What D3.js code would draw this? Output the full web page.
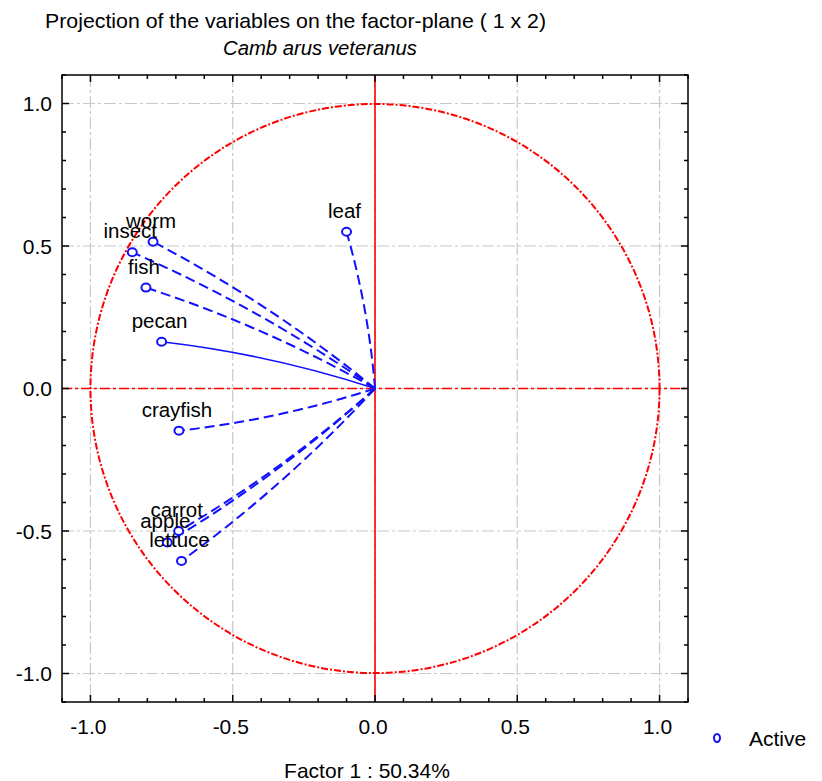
<!DOCTYPE html>
<html>
<head>
<meta charset="utf-8">
<script src="https://cdn.jsdelivr.net/npm/d3@7"></script>
<style>
  html, body { margin: 0; padding: 0; background: #fff; }
  svg text { font-family: "Liberation Sans", Arial, sans-serif; fill: #000; }
</style>
</head>
<body>
<svg id="chart" width="822" height="781"></svg>
<script>
// Variable loadings on factor 1 (x) and factor 2 (y)
const variables = ["leaf", "worm", "insect", "fish", "pecan", "crayfish", "carrot", "apple", "lettuce"];
const factor1 = [-0.10, -0.78, -0.853, -0.805, -0.75, -0.689, -0.69, -0.73, -0.68];
const factor2 = [0.55, 0.515, 0.478, 0.354, 0.164, -0.148, -0.50, -0.54, -0.605];
const solidLine = ["pecan"];

const majorTicks = [-1.0, -0.5, 0.0, 0.5, 1.0];
const tickLabels = ["-1.0", "-0.5", "0.0", "0.5", "1.0"];
const axisDomain = [-1.1, 1.1];

const titleText = "Projection of the variables on the factor-plane (  1 x    2)";
const subtitleText = "Camb arus veteranus";
const xTitleText = "Factor 1 : 50.34%";
const legendText = "Active";

const svg = d3.select("#chart");
const frame = { left: 62, right: 688, top: 75, bottom: 702 };

const x = d3.scaleLinear().domain(axisDomain).range([frame.left, frame.right]);
const y = d3.scaleLinear().domain(axisDomain).range([frame.bottom, frame.top]);

const red = "#ff0000";
const blue = "#1010ff";
const grid = "#c8c8c8";

// grid lines at major ticks (dash-dot, light grey)
const g = svg.append("g");
majorTicks.forEach(v => {
  g.append("line").attr("x1", x(v)).attr("x2", x(v)).attr("y1", frame.top).attr("y2", frame.bottom)
    .attr("stroke", grid).attr("stroke-width", 1.2).attr("stroke-dasharray", "12,3,3,3");
  g.append("line").attr("y1", y(v)).attr("y2", y(v)).attr("x1", frame.left).attr("x2", frame.right)
    .attr("stroke", grid).attr("stroke-width", 1.2).attr("stroke-dasharray", "12,3,3,3");
});

// unit circle of correlations
svg.append("circle")
  .attr("cx", x(0)).attr("cy", y(0)).attr("r", x(1) - x(0))
  .attr("fill", "none").attr("stroke", red).attr("stroke-width", 2)
  .attr("stroke-dasharray", "7,2,2,2");

// reference axes through the origin
svg.append("line").attr("x1", frame.left).attr("x2", frame.right).attr("y1", y(0)).attr("y2", y(0))
  .attr("stroke", red).attr("stroke-width", 1.6).attr("stroke-dasharray", "10,3,3,3");
svg.append("line").attr("x1", x(0)).attr("x2", x(0)).attr("y1", frame.top).attr("y2", frame.bottom)
  .attr("stroke", red).attr("stroke-width", 1.6);

// frame
svg.append("rect").attr("x", frame.left).attr("y", frame.top)
  .attr("width", frame.right - frame.left).attr("height", frame.bottom - frame.top)
  .attr("fill", "none").attr("stroke", "#000").attr("stroke-width", 1.5);

// inward ticks on all four sides
const minor = x.ticks(22);
const isMajor = v => Math.abs(v * 2 - Math.round(v * 2)) < 1e-6;
minor.forEach(v => {
  const len = isMajor(v) ? 7 : 4;
  svg.append("line").attr("x1", x(v)).attr("x2", x(v)).attr("y1", frame.bottom).attr("y2", frame.bottom - len).attr("stroke", "#000").attr("stroke-width", 1.5);
  svg.append("line").attr("x1", x(v)).attr("x2", x(v)).attr("y1", frame.top).attr("y2", frame.top + len).attr("stroke", "#000").attr("stroke-width", 1.5);
  svg.append("line").attr("y1", y(v)).attr("y2", y(v)).attr("x1", frame.left).attr("x2", frame.left + len).attr("stroke", "#000").attr("stroke-width", 1.5);
  svg.append("line").attr("y1", y(v)).attr("y2", y(v)).attr("x1", frame.right).attr("x2", frame.right - len).attr("stroke", "#000").attr("stroke-width", 1.5);
});

// tick labels
majorTicks.forEach((v, i) => {
  svg.append("text").attr("x", x(v) - 2).attr("y", frame.bottom + 32)
    .attr("text-anchor", "middle").attr("font-size", 21).text(tickLabels[i]);
  svg.append("text").attr("x", frame.left - 10).attr("y", y(v) + 7.5)
    .attr("text-anchor", "end").attr("font-size", 21).text(tickLabels[i]);
});

// loading vectors from the origin, slightly bowed away from the horizontal axis
const rows = variables.map((name, i) => ({ name, fx: factor1[i], fy: factor2[i] }));
const bow = 0.05;
rows.forEach(d => {
  const len = Math.hypot(d.fx, d.fy);
  let nx = -d.fy / len, ny = d.fx / len;
  if (ny * Math.sign(d.fy) < 0) { nx = -nx; ny = -ny; }
  const cx = d.fx / 2 + nx * bow * len;
  const cy = d.fy / 2 + ny * bow * len;
  const p = d3.path();
  p.moveTo(x(0), y(0));
  p.quadraticCurveTo(x(cx), y(cy), x(d.fx), y(d.fy));
  svg.append("path").attr("d", p.toString())
    .attr("fill", "none").attr("stroke", blue)
    .attr("stroke-width", solidLine.includes(d.name) ? 1.6 : 2)
    .attr("stroke-dasharray", solidLine.includes(d.name) ? null : "10,5");
});

// point markers
svg.selectAll("ellipse.pt").data(rows).join("ellipse").attr("class", "pt")
  .attr("cx", d => x(d.fx)).attr("cy", d => y(d.fy))
  .attr("rx", 4.5).attr("ry", 4)
  .attr("fill", "#fff").attr("stroke", blue).attr("stroke-width", 2);

// variable names
svg.selectAll("text.lbl").data(rows).join("text").attr("class", "lbl")
  .attr("x", d => x(d.fx) - 2).attr("y", d => y(d.fy) - 14)
  .attr("text-anchor", "middle").attr("font-size", 20.5)
  .text(d => d.name);

// titles
svg.append("text").attr("x", 45).attr("y", 28).attr("font-size", 21)
  .attr("textLength", 501).attr("lengthAdjust", "spacingAndGlyphs").text(titleText);
svg.append("text").attr("x", 223).attr("y", 55).attr("font-size", 20).attr("font-style", "italic")
  .attr("textLength", 194).attr("lengthAdjust", "spacingAndGlyphs").text(subtitleText);
svg.append("text").attr("x", 367).attr("y", 778).attr("text-anchor", "middle").attr("font-size", 21)
  .text(xTitleText);

// legend
svg.append("ellipse").attr("cx", 717).attr("cy", 738).attr("rx", 3).attr("ry", 4)
  .attr("fill", "#fff").attr("stroke", blue).attr("stroke-width", 2);
svg.append("text").attr("x", 749).attr("y", 746).attr("font-size", 21).text(legendText);
</script>
</body>
</html>
